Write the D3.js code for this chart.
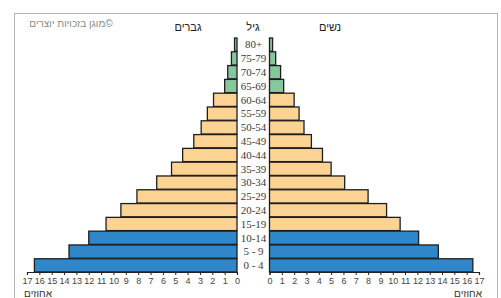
<!DOCTYPE html>
<html>
<head>
<meta charset="utf-8">
<script src="https://cdn.jsdelivr.net/npm/d3@7"></script>
<style>
  body { margin: 0; background: #fff; }
  svg { display: block; }
</style>
</head>
<body>
<div id="chart"></div>
<script>
// age groups, top to bottom
const ages = ['80+', '75-79', '70-74', '65-69', '60-64', '55-59', '50-54', '45-49',
  '40-44', '35-39', '30-34', '25-29', '20-24', '15-19', '10-14', '5 - 9', '0 - 4'];
// percent of population
const men = [0.2, 0.45, 0.75, 1.0, 1.9, 2.4, 2.9, 3.5, 4.4, 5.3, 6.5, 8.1, 9.4, 10.6, 12.0, 13.6, 16.4];
const women = [0.25, 0.5, 0.9, 1.15, 2.0, 2.4, 2.8, 3.4, 4.3, 5.0, 6.1, 8.0, 9.5, 10.6, 12.1, 13.7, 16.5];
const ticks = d3.range(0, 18);

const width = 501, height = 298;
const svg = d3.select('#chart').append('svg')
  .attr('width', width)
  .attr('height', height);

// frame
svg.append('rect')
  .attr('x', 14.5).attr('y', 13.5)
  .attr('width', 483).attr('height', 300)
  .attr('fill', '#fff')
  .attr('stroke', '#b4b4b4');

const y = d3.scaleBand()
  .domain(ages)
  .range([38, 272])
  .paddingInner(0.04);

const xL = d3.scaleLinear().domain([0, 17]).range([237, 27]);
const xR = d3.scaleLinear().domain([0, 17]).range([269.5, 479]);

function colour(i) {
  if (i >= 14) return '#2f86c8';
  if (i <= 3) return '#86c79d';
  return '#fdd393';
}

const rows = ages.map((a, i) => ({ age: a, i: i, m: men[i], w: women[i] }));

svg.append('g').selectAll('rect')
  .data(rows)
  .join('rect')
  .attr('x', d => xL(d.m))
  .attr('y', d => y(d.age))
  .attr('width', d => xL(0) - xL(d.m))
  .attr('height', y.bandwidth())
  .attr('fill', d => colour(d.i))
  .attr('stroke', '#1e1e1e')
  .attr('stroke-width', 1.3);

svg.append('g').selectAll('rect')
  .data(rows)
  .join('rect')
  .attr('x', xR(0))
  .attr('y', d => y(d.age))
  .attr('width', d => xR(d.w) - xR(0))
  .attr('height', y.bandwidth())
  .attr('fill', d => colour(d.i))
  .attr('stroke', '#1e1e1e')
  .attr('stroke-width', 1.3);

// age labels
svg.append('g').selectAll('text')
  .data(ages)
  .join('text')
  .attr('x', 253.5)
  .attr('y', d => y(d) + y.bandwidth() / 2)
  .attr('dy', '0.35em')
  .attr('text-anchor', 'middle')
  .style('font-family', '"Liberation Serif", "DejaVu Serif", serif')
  .attr('font-size', 11)
  .attr('fill', '#3a3a3a')
  .text(d => d);

// axes
const axL = svg.append('g')
  .attr('transform', 'translate(0,272)')
  .call(d3.axisBottom(xL).tickValues(ticks).tickSize(3).tickFormat(d3.format('d')));
const axR = svg.append('g')
  .attr('transform', 'translate(0,272)')
  .call(d3.axisBottom(xR).tickValues(ticks).tickSize(3).tickFormat(d3.format('d')));
[axL, axR].forEach(ax => {
  ax.select('.domain').attr('stroke', '#222').attr('stroke-width', 1.2);
  ax.selectAll('.tick line').attr('stroke', '#222');
  ax.selectAll('.tick text')
    .attr('y', 6)
    .attr('font-family', 'Liberation Sans, Arial, sans-serif')
    .attr('font-size', 9)
    .attr('fill', '#444');
});

const sans = 'Liberation Sans, DejaVu Sans, Arial, sans-serif';

// headers
svg.append('text').attr('x', 253).attr('y', 31)
  .attr('text-anchor', 'middle').attr('font-family', sans).attr('font-size', 11)
  .attr('fill', '#222').text('גיל');
svg.append('text').attr('x', 188).attr('y', 31)
  .attr('text-anchor', 'middle').attr('font-family', sans).attr('font-size', 11)
  .attr('fill', '#222').text('גברים');
svg.append('text').attr('x', 330).attr('y', 31)
  .attr('text-anchor', 'middle').attr('font-family', sans).attr('font-size', 11)
  .attr('fill', '#222').text('נשים');

// copyright note
svg.append('text').attr('x', 71).attr('y', 27)
  .attr('text-anchor', 'middle').attr('font-family', sans).attr('font-size', 10)
  .attr('fill', '#888').text('מוגן בזכויות יוצרים©');

// unit labels
svg.append('text').attr('x', 38).attr('y', 297)
  .attr('text-anchor', 'middle').attr('font-family', sans).attr('font-size', 10)
  .attr('fill', '#333').text('אחוזים');
svg.append('text').attr('x', 468).attr('y', 297)
  .attr('text-anchor', 'middle').attr('font-family', sans).attr('font-size', 10)
  .attr('fill', '#333').text('אחוזים');
</script>
</body>
</html>
